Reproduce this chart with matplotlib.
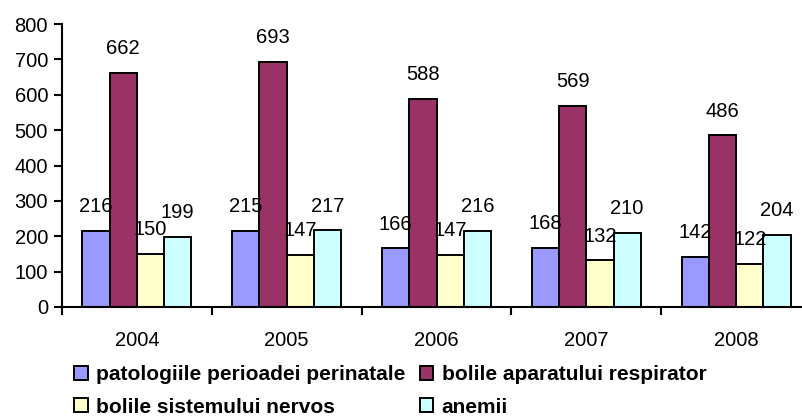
import numpy as np
import matplotlib.pyplot as plt

plt.rcParams['font.family'] = ['Liberation Sans', 'DejaVu Sans']

# date
ani = ['2004', '2005', '2006', '2007', '2008']
perinatale = [216, 215, 166, 168, 142]
respirator = [662, 693, 588, 569, 486]
nervos = [150, 147, 147, 132, 122]
anemii = [199, 217, 216, 210, 204]

serii = [
    ('patologiile perioadei perinatale', perinatale, '#9999FF'),
    ('bolile aparatului respirator', respirator, '#993366'),
    ('bolile sistemului nervos', nervos, '#FFFFCC'),
    ('anemii', anemii, '#CCFFFF'),
]

W, H = 802, 417
fig = plt.figure(figsize=(W / 100, H / 100), dpi=100)
ax = fig.add_axes([62 / W, (H - 307) / H, (811 - 62) / W, 283 / H])

x = np.arange(len(ani))
lat = 1 / 5.5
bare = []
for i, (nume, val, cul) in enumerate(serii):
    poz = x + (i - 1.5) * lat
    b = ax.bar(poz, val, lat, color=cul, edgecolor='black', linewidth=1.4, label=nume)
    bare.append(b)
    for px, v in zip(poz, val):
        ax.annotate(str(v), (px, v), xytext=(0, 24), textcoords='offset pixels',
                    ha='center', va='center', fontsize=14.5)

ax.set_xlim(-0.5, len(ani) - 0.5)
ax.set_ylim(0, 800)
ax.set_yticks(range(0, 801, 100))
ax.tick_params(axis='y', labelsize=14.5, length=6, width=1.5, direction='out', pad=4)

ax.set_xticks(np.arange(-0.5, len(ani), 1.0))
ax.set_xticklabels([])
ax.tick_params(axis='x', which='major', length=6, width=1.5, direction='out')
ax.set_xticks(x, minor=True)
ax.set_xticklabels(ani, minor=True)
ax.tick_params(axis='x', which='minor', length=0, labelsize=14.5, pad=17)

for s in ['top', 'right']:
    ax.spines[s].set_visible(False)
for s in ['left', 'bottom']:
    ax.spines[s].set_linewidth(1.5)

ordine = [bare[0], bare[2], bare[1], bare[3]]
fig.legend(ordine, [serii[0][0], serii[2][0], serii[1][0], serii[3][0]],
           loc='upper left', bbox_to_anchor=(74 / W, 1 - 365 / H), ncol=2,
           frameon=False, prop={'weight': 'bold', 'size': 15},
           handlelength=0.65, handleheight=0.65, handletextpad=0.4,
           columnspacing=0.7, labelspacing=0.65, borderpad=0, borderaxespad=0)

fig.savefig('out.png', dpi=100)
